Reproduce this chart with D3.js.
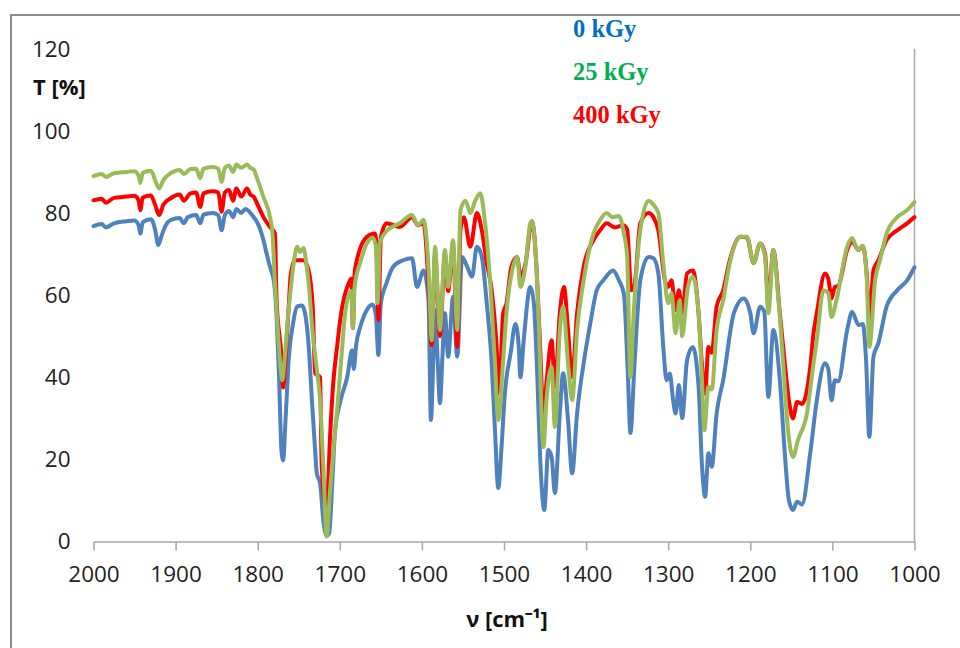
<!DOCTYPE html>
<html>
<head>
<meta charset="utf-8">
<script src="https://cdn.jsdelivr.net/npm/d3@7"></script>
<style>
  body { margin: 0; background: #fff; }
  svg { display: block; }
  .tick text { font-family: "Open Sans", sans-serif; font-size: 22.5px; fill: #222; }
</style>
</head>
<body>
<svg id="chart" width="960" height="648"></svg>
<script>
// spectra: [wavenumber cm-1, transmittance %]
const kGy0 = [[2000,76.8],[1990,77.3],[1985,76.5],[1975,77.5],[1960,78],[1950,78.2],[1945,77],[1943,75],[1940,77.8],[1930,78.5],[1925,76],[1921,72.2],[1917,74.5],[1912,77],[1906,78.3],[1895,78.8],[1890,77.5],[1885,79],[1875,79.5],[1870,77.5],[1866,79.6],[1855,80],[1848,79.5],[1844,75.8],[1840,79.5],[1835,80.5],[1830,79],[1826,81],[1820,80],[1815,81],[1810,80.3],[1805,79],[1800,77.5],[1796,75.5],[1793,73.4],[1789,70],[1785,66.9],[1780,63],[1777,55],[1774,40],[1771,22],[1769,19.8],[1766,30],[1762,45],[1757,53],[1752,57.2],[1746,57.5],[1740,52.3],[1737,45],[1734,34.4],[1730,22],[1728,16.6],[1724,14.2],[1720,5],[1716,1.4],[1713,2],[1709,15],[1706,26.4],[1699,34.4],[1691,40],[1685,46.6],[1683,42],[1680,48],[1675,52.3],[1667,56.4],[1660,57.7],[1656,55],[1653,45.4],[1650,58],[1643,63],[1635,66.9],[1623,68.5],[1612,69],[1606,62],[1598,66],[1592,58.8],[1589,29.6],[1586,45],[1584,56.4],[1581,45],[1578,33.7],[1575,45],[1572,55.6],[1568,45],[1562,59.6],[1557,45],[1551,69.3],[1545,67],[1539,64.5],[1533,71.8],[1527,69.3],[1521,58],[1515,43.4],[1511,27.1],[1507,13],[1503,23],[1499,36],[1492,45.8],[1486,53],[1482,47.4],[1480,40],[1476,49],[1468,62],[1464,58.8],[1460,43.4],[1456,20.6],[1451,7.7],[1446,22.3],[1442,20.6],[1438,11.8],[1432,31.2],[1428,41],[1422,29.6],[1417,16.6],[1411,31.2],[1403,43.4],[1395,53],[1387,61.2],[1379,63.6],[1367,66],[1360,63.6],[1354,60.4],[1349,40],[1346,26.4],[1341,43.4],[1334,63.6],[1324,69.3],[1318,69],[1312,65.3],[1306,47.4],[1302,39.3],[1298,40.9],[1294,34.4],[1291,31.2],[1287,38.1],[1283,30],[1277,44.2],[1270,47.4],[1263,37.7],[1259,19.1],[1255,10.9],[1251,21.5],[1247,18.2],[1241,31.2],[1233,39.3],[1220,55.6],[1208,59.2],[1200,55.6],[1196,50.7],[1188,57.2],[1183,56],[1178,35.2],[1172,51.5],[1164,39.3],[1158,21.5],[1153,10.1],[1148,7.7],[1143,9.7],[1137,9],[1127,21.5],[1119,34.4],[1109,43.4],[1105,42],[1101,34.4],[1097,39.3],[1093,39],[1082,51.5],[1076,55.9],[1068,52.7],[1063,53],[1059,44.2],[1055,25.5],[1050,45],[1044,48.3],[1034,57.2],[1021,61.2],[1009,63.6],[1000,66.8]];

const kGy25 = [[2000,89],[1990,89.5],[1985,88.8],[1975,89.7],[1960,90],[1950,90.2],[1945,89],[1943,87.3],[1940,89.8],[1930,90.3],[1925,88],[1920,86],[1915,88],[1906,89.7],[1895,90.5],[1890,89.5],[1882,90.7],[1875,90.8],[1870,88.5],[1866,90.8],[1855,91.2],[1848,90.8],[1844,87.6],[1840,91],[1835,91.6],[1830,90],[1826,91.8],[1820,91],[1813,91.8],[1809,91],[1805,90.6],[1800,88],[1793,83.9],[1785,79],[1782,75],[1779,63],[1775,50],[1770,39.3],[1767,45],[1763,55],[1760,61],[1756,68],[1752,71.8],[1748,70.5],[1744,71.5],[1741,68],[1738,63],[1733,50.7],[1728,42],[1724,34.4],[1720,18],[1716,1.2],[1712,12],[1708,22],[1704,30.4],[1698,45],[1693,56.4],[1686,61],[1684,52],[1682,62],[1675,68],[1667,72.6],[1660,74],[1656,72],[1654,58],[1651,73],[1642,75.8],[1627,77.5],[1612,79.5],[1605,77],[1598,78.3],[1592,66.9],[1588,49],[1584,71.8],[1578,51.5],[1572,71],[1568,62],[1562,73.4],[1557,51.5],[1553,80.7],[1547,83],[1541,80],[1535,83],[1529,84.8],[1523,77.5],[1517,63.6],[1511,43.4],[1507,29.6],[1501,44.2],[1497,55.6],[1489,66.9],[1484,69.3],[1480,62],[1474,66.9],[1468,77.5],[1466,78],[1462,71.8],[1458,55.6],[1452,23],[1448,35.2],[1442,42.5],[1438,27.9],[1432,51.5],[1428,57.2],[1422,43.4],[1417,34.4],[1411,51.5],[1403,63.6],[1391,75],[1383,78.3],[1375,80],[1368,79],[1360,79.3],[1354,75],[1350,69.3],[1346,40],[1342,55.6],[1334,75.8],[1324,83],[1318,82],[1312,80],[1306,67.8],[1300,58],[1296,60.5],[1291,50.7],[1286,58.8],[1283,50],[1276,62],[1270,64.5],[1263,55.6],[1259,40],[1256,27.1],[1251,37.7],[1247,37],[1241,51.5],[1233,58.8],[1225,67.8],[1212,74.2],[1204,74.2],[1196,67.8],[1188,72.6],[1182,69.3],[1178,55.6],[1172,71],[1166,59.6],[1160,43.4],[1154,27.1],[1148,20.6],[1142,24.7],[1131,31.2],[1123,43.4],[1119,49],[1111,61.2],[1105,60.5],[1101,54.7],[1095,58.8],[1082,71.8],[1076,73.9],[1069,71],[1063,72],[1058,63.6],[1055,47.4],[1048,63.6],[1042,68.5],[1034,75],[1021,79],[1009,80.7],[1000,82.7]];

const kGy400 = [[2000,83.1],[1990,83.5],[1985,82.5],[1975,83.7],[1960,84],[1950,84.2],[1945,83],[1943,80.7],[1940,83.8],[1930,84.3],[1925,82],[1920,79.5],[1915,82],[1906,83.6],[1895,84.5],[1890,83],[1882,84.8],[1875,85],[1870,81.5],[1866,84.8],[1855,85.3],[1848,85],[1844,80.3],[1840,85],[1835,85.6],[1830,83],[1826,86],[1820,84],[1813,86],[1809,84.5],[1805,84],[1800,82],[1793,79],[1785,76.6],[1779,75],[1777,58.8],[1771,45],[1769,37.5],[1766,45],[1762,58],[1760,64.5],[1755,68.5],[1750,68.5],[1744,68.5],[1738,66],[1733,57.2],[1730,41],[1724,40],[1722,18.2],[1716,7.7],[1712,25],[1708,38.5],[1703,48],[1699,54.7],[1689,63],[1686,64],[1684,52],[1682,65],[1680,67.8],[1667,74.2],[1657,75],[1655,70],[1653,53.9],[1650,74],[1643,77.5],[1627,76.6],[1612,79],[1605,77],[1598,77.5],[1592,63],[1588,47.8],[1584,70],[1578,50],[1572,70],[1568,61],[1562,72],[1557,47.4],[1553,76],[1549,79],[1541,71.8],[1533,80],[1527,75.8],[1521,67.8],[1515,61.2],[1509,47.4],[1506,36],[1501,55.6],[1497,58],[1491,66.9],[1484,69.3],[1480,64.5],[1474,67.5],[1466,78],[1460,65.3],[1456,47.4],[1452,31.2],[1448,39.3],[1442,49],[1438,37.7],[1432,55.6],[1427,62],[1422,51.5],[1417,40],[1411,55.6],[1403,66.9],[1391,73.4],[1383,75.8],[1375,77.5],[1365,76.5],[1355,77],[1350,76],[1345,61.2],[1341,62.5],[1334,77.5],[1324,80],[1318,79],[1312,75.8],[1304,63.6],[1300,62],[1296,63.6],[1291,56.4],[1287,61.2],[1283,55.6],[1277,65.3],[1270,66],[1263,55.6],[1259,43.4],[1255,36],[1251,47.4],[1247,46],[1241,57.2],[1233,61.2],[1225,68.5],[1212,74.2],[1204,74],[1196,67.8],[1188,72.6],[1182,70],[1178,58],[1172,71],[1164,55.6],[1158,43.4],[1153,34.4],[1148,30],[1143,34],[1137,33.5],[1127,42.5],[1123,50.7],[1119,55.6],[1109,65.3],[1105,64],[1101,59.2],[1097,62],[1093,62.2],[1082,71],[1076,73],[1068,71],[1063,72],[1058,64.5],[1055,53.9],[1050,66],[1044,68.5],[1034,73.4],[1021,75.8],[1009,77.5],[1000,79]];

const xTicks = [2000, 1900, 1800, 1700, 1600, 1500, 1400, 1300, 1200, 1100, 1000];
const yTicks = [0, 20, 40, 60, 80, 100, 120];
const legendNames = ["0 kGy", "25 kGy", "400 kGy"];
const legendColors = ["#0070C0", "#00B050", "#FF0000"];

var svg = d3.select("#chart");
var plotLeft = 93.5, plotRight = 914.5, plotTop = 48.8, plotBottom = 541.5;

const x = d3.scaleLinear().domain([2000, 1000]).range([plotLeft, plotRight]);
const y = d3.scaleLinear().domain([0, 120]).range([plotBottom, plotTop]);

// chart frame (runs off the right/bottom edge of the picture)
svg.append("rect")
    .attr("x", 11).attr("y", 15)
    .attr("width", 1000).attr("height", 700)
    .attr("fill", "none")
    .attr("stroke", "#8c8c8c")
    .attr("stroke-width", 2);

// right-hand vertical line
svg.append("line")
    .attr("x1", x(1000)).attr("x2", x(1000))
    .attr("y1", y(120)).attr("y2", y(0))
    .attr("stroke", "#a6a6a6")
    .attr("stroke-width", 1.5);

// x axis
var xAxis = svg.append("g")
    .attr("transform", `translate(0, ${plotBottom})`)
    .call(d3.axisBottom(x).tickValues(xTicks).tickSize(9).tickSizeOuter(0).tickPadding(16).tickFormat(d3.format("d")));
xAxis.select(".domain").attr("stroke", "#a6a6a6").attr("stroke-width", 1.5);
xAxis.selectAll(".tick line").attr("stroke", "#a6a6a6").attr("stroke-width", 1.5);

// y axis (labels only)
var yAxis = svg.append("g")
    .attr("transform", `translate(${plotLeft}, 0)`)
    .call(d3.axisLeft(y).tickValues(yTicks).tickSize(0).tickPadding(23));
yAxis.select(".domain").remove();

// axis titles
svg.append("text")
    .attr("x", 33).attr("y", 95)
    .style("font-family", "'Open Sans', sans-serif")
    .style("font-weight", "bold")
    .style("font-size", "22px")
    .attr("fill", "#111")
    .text("T [%]");

svg.append("text")
    .attr("x", 507).attr("y", 627)
    .attr("text-anchor", "middle")
    .style("font-family", "'Open Sans', sans-serif")
    .style("font-weight", "bold")
    .style("font-size", "22px")
    .attr("fill", "#111")
    .text("ν [cm⁻¹]");

// spectra
const line = d3.line()
    .x(d => x(d[0]))
    .y(d => y(d[1]))
    .curve(d3.curveMonotoneX);

const series = [
    { data: kGy0, color: "#4F81BD" },
    { data: kGy400, color: "#FF0000" },
    { data: kGy25, color: "#9BBB59" }
];

svg.selectAll(".spectrum")
    .data(series)
    .enter()
    .append("path")
    .attr("class", "spectrum")
    .attr("d", d => line(d.data))
    .attr("fill", "none")
    .attr("stroke", d => d.color)
    .attr("stroke-width", 4)
    .attr("stroke-linejoin", "round")
    .attr("stroke-linecap", "round");

// legend: coloured labels only
svg.selectAll(".legend")
    .data(legendNames)
    .enter()
    .append("text")
    .attr("class", "legend")
    .attr("x", 573)
    .attr("y", (d, i) => 37 + i * 43)
    .style("font-family", "'Liberation Serif', serif")
    .style("font-weight", "bold")
    .style("font-size", "24.5px")
    .attr("fill", (d, i) => legendColors[i])
    .text(d => d);
</script>
</body>
</html>
